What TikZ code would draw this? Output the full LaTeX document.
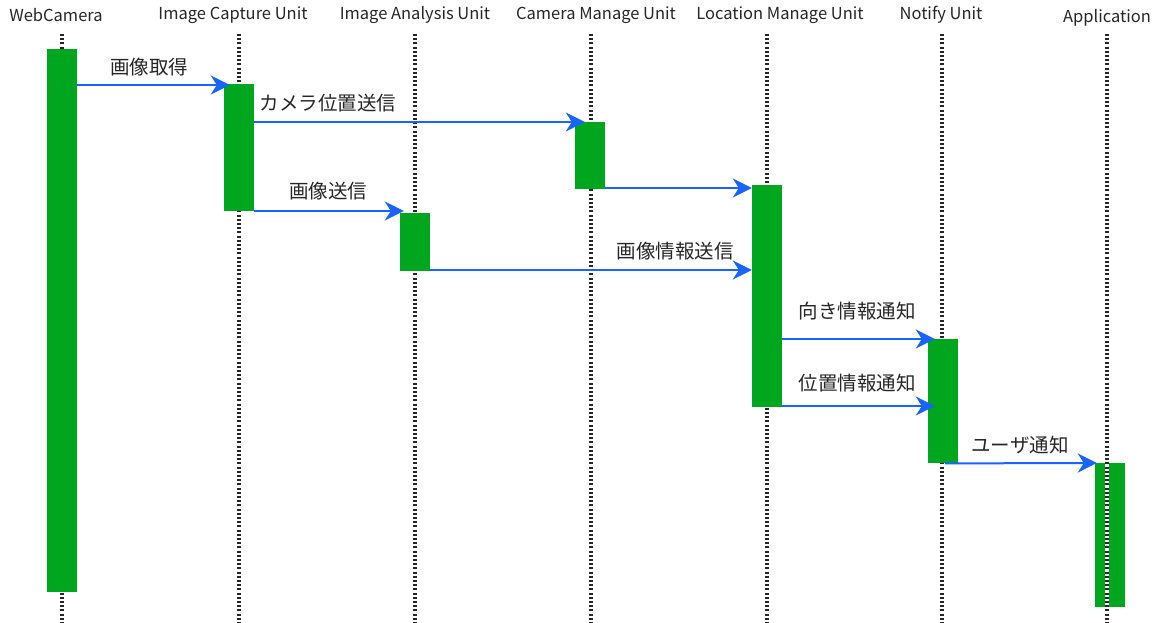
\documentclass[tikz,border=0pt]{standalone}
\usepackage{fontspec}
\setmainfont{Noto Sans CJK JP}
\usetikzlibrary{arrows.meta}
\definecolor{actgreen}{RGB}{0,166,30}
\definecolor{msgblue}{RGB}{25,100,255}
\tikzset{
  head/.style={font=\fontsize{16.5}{16.5}\selectfont, text=black!85, inner sep=0pt},
  life/.style={line width=3.5pt, black!85, dash pattern=on 2pt off 2.2pt},
  act/.style={fill=actgreen, draw=none, minimum width=30pt, inner sep=0pt, anchor=north},
  msg/.style={msgblue, line width=2pt, -{Stealth[length=19pt,width=19pt,inset=6pt]}},
  lbl/.style={font=\fontsize{19.5}{19.5}\selectfont, text=black!85, inner sep=0pt}
}
\begin{document}
\begin{tikzpicture}[x=1pt,y=-1pt]
\useasboundingbox (0,0) rectangle (1159,623);
% headers
\node[head] (hwc) at (56,15) {WebCamera};
\node[head] (hic) at (233,15) {Image Capture Unit};
\node[head] (hia) at (415,15) {Image Analysis Unit};
\node[head] (hcm) at (596,15) {Camera Manage Unit};
\node[head] (hlm) at (780,15) {Location Manage Unit};
\node[head] (hnu) at (941,15) {Notify Unit};
\node[head] (hap) at (1107,18) {Application};
% lifelines
\coordinate (lwc1) at (62,34); \coordinate (lwc2) at (62,623);
\coordinate (lic1) at (239,34); \coordinate (lic2) at (239,623);
\coordinate (lia1) at (415,34); \coordinate (lia2) at (415,623);
\coordinate (lcm1) at (591,34); \coordinate (lcm2) at (591,623);
\coordinate (llm1) at (767,34); \coordinate (llm2) at (767,623);
\coordinate (lnu1) at (942,34); \coordinate (lnu2) at (942,623);
\coordinate (lap1) at (1107,34); \coordinate (lap2) at (1107,623);
\draw[life] (lwc1) -- (lwc2);
\draw[life] (lic1) -- (lic2);
\draw[life] (lia1) -- (lia2);
\draw[life] (lcm1) -- (lcm2);
\draw[life] (llm1) -- (llm2);
\draw[life] (lnu1) -- (lnu2);
% activation boxes
\node[act, minimum height=543pt] (wc) at (62,49) {};
\node[act, minimum height=127pt] (ic) at (239,84) {};
\node[act, minimum height=67pt] (cm) at (590,122) {};
\node[act, minimum height=58pt] (ia) at (415,213) {};
\node[act, minimum height=222pt] (lm) at (767,185) {};
\node[act, minimum height=124pt] (nu) at (943,339) {};
\node[act, minimum height=144pt] (ap) at (1110,463) {};
% application lifeline drawn over its box
\draw[white, line width=3.5pt] (lap1) -- (lap2);
\draw[life] (lap1) -- (lap2);
% messages
\draw[msg] (wc.east |- 0,85) -- ([xshift=6pt]ic.north west |- 0,85);
\draw[msg] (ic.east |- 0,122) -- ([xshift=10pt]cm.north west);
\draw[msg] (cm.east |- 0,188) -- (lm.west |- 0,188);
\draw[msg] (ic.east |- 0,211) -- ([xshift=4pt]ia.west |- 0,211);
\draw[msg] (ia.east |- 0,270) -- (lm.west |- 0,270);
\draw[msg] (lm.east |- 0,339) -- ([xshift=7pt]nu.north west);
\draw[msg] (lm.east |- 0,406) -- ([xshift=7pt]nu.west |- 0,406);
\draw[msg] ([xshift=-13pt]nu.south east) -- ([xshift=2pt]ap.north west);
% labels
\node[lbl] (m1) at (149,67) {画像取得};
\node[lbl] (m2) at (328,103) {カメラ位置送信};
\node[lbl] (m4) at (328,191) {画像送信};
\node[lbl] (m5) at (675,251) {画像情報送信};
\node[lbl] (m6) at (857,311) {向き情報通知};
\node[lbl] (m7) at (857,383) {位置情報通知};
\node[lbl] (m8) at (1020,445) {ユーザ通知};
\end{tikzpicture}
\end{document}
